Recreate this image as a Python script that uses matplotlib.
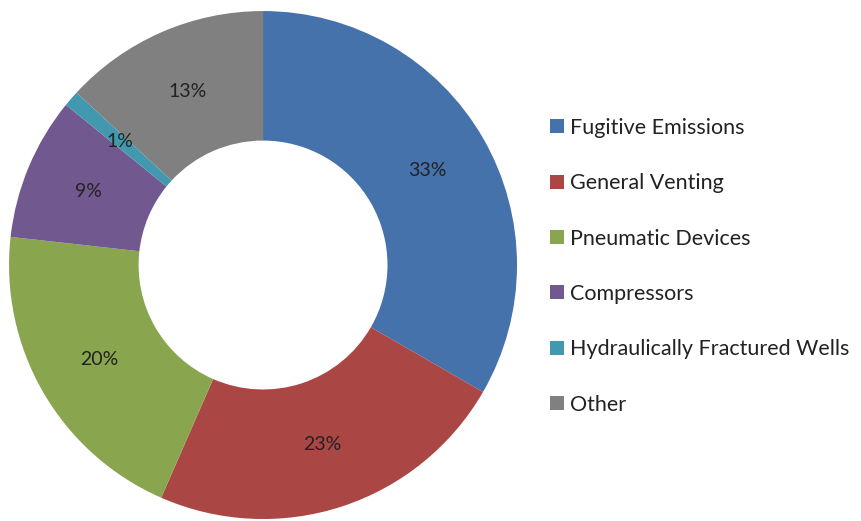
import matplotlib
matplotlib.use("Agg")
import matplotlib.pyplot as plt
from matplotlib.patches import Patch

categories = ["Fugitive Emissions", "General Venting", "Pneumatic Devices",
              "Compressors", "Hydraulically Fractured Wells", "Other"]
values = [33, 23, 20, 9, 1, 13]
colors = ["#4672AB", "#AA4643", "#89A54E", "#71588F", "#4198AF", "#808080"]

plt.rcParams['font.family'] = ['Lato', 'DejaVu Sans']

fig = plt.figure(figsize=(8.61, 5.21), dpi=100)
ax = fig.add_axes([0.0105, 0.0038, 0.590, 0.975])
wedges, texts = ax.pie(values, colors=colors, startangle=90, counterclock=False,
                       radius=1.0, wedgeprops=dict(width=0.51, linewidth=0),
                       labels=[f"{v}%" for v in values], labeldistance=0.745,
                       textprops=dict(fontsize=14, color="#222222",
                                      ha="center", va="center"))
for t in texts:
    t.set_horizontalalignment("center")
ax.set_xlim(-1, 1)
ax.set_ylim(-1, 1)
ax.set_aspect("equal")
ax.axis("off")

handles = [Patch(facecolor=c, edgecolor="none") for c in colors]
fig.legend(handles, categories, loc="upper left", bbox_to_anchor=(0.629, 0.79),
           frameon=False, fontsize=15.5, handlelength=0.62, handleheight=0.62,
           handletextpad=0.3, labelspacing=1.64, borderaxespad=0,
           labelcolor="#222222")

fig.savefig("out.png", dpi=100)
